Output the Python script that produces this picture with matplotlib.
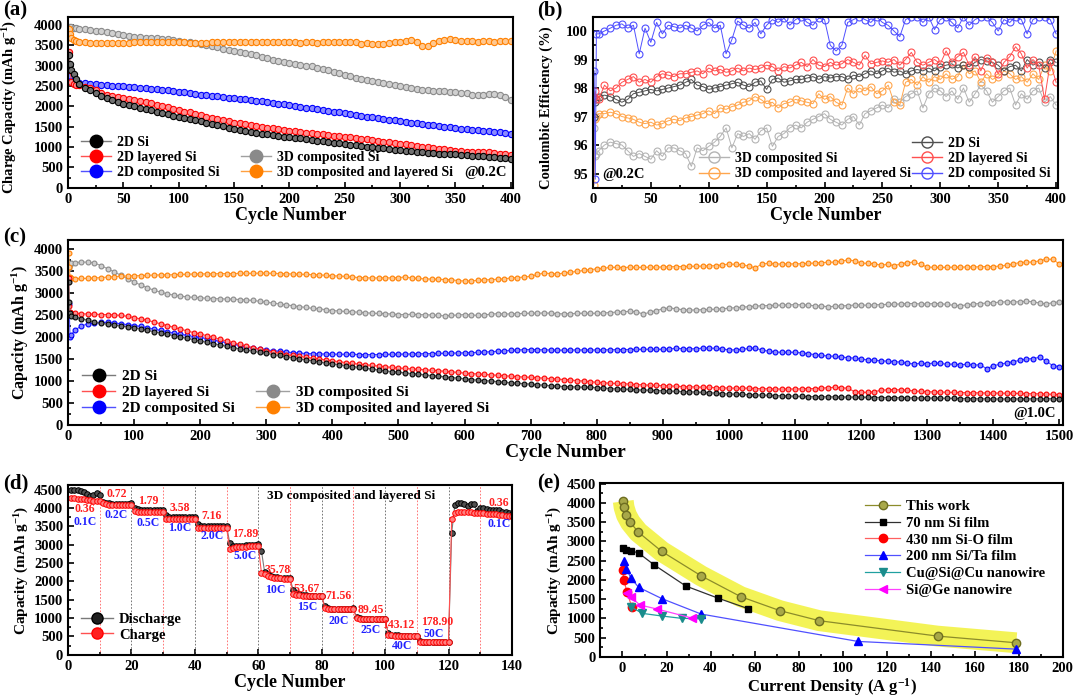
import matplotlib
matplotlib.use("Agg")
import matplotlib.pyplot as plt
from matplotlib.lines import Line2D
from matplotlib.ticker import MultipleLocator

plt.rcParams['font.family'] = ['Liberation Serif', 'DejaVu Serif']
plt.rcParams['font.weight'] = 'bold'
plt.rcParams['axes.labelweight'] = 'bold'
plt.rcParams['mathtext.fontset'] = 'custom'
plt.rcParams['mathtext.rm'] = 'Liberation Serif:bold'
plt.rcParams['mathtext.it'] = 'Liberation Serif:bold:italic'
plt.rcParams['mathtext.bf'] = 'Liberation Serif:bold'

# ---------------- (a) charge capacity @0.2C ----------------
a_cyc = [1, 2, 3, 5, 7] + list(range(10, 401, 5))
a_2d_si = [3250, 3050, 2900, 2800, 2680,
           2550, 2460, 2390, 2320, 2250, 2200, 2150, 2100, 2060, 2030,
           2000, 1960, 1930, 1900, 1870, 1840, 1800, 1770, 1740, 1710,
           1690, 1660, 1630, 1600, 1570, 1540, 1510, 1480, 1450, 1420,
           1400, 1370, 1350, 1330, 1310, 1290, 1270, 1255, 1240, 1225,
           1210, 1195, 1180, 1160, 1140, 1125, 1110, 1090, 1070, 1055,
           1040, 1025, 1010, 995, 980, 965, 950, 935, 920, 910,
           900, 890, 880, 865, 850, 840, 830, 825, 820, 810,
           800, 790, 780, 770, 760, 750, 740, 725, 710]
a_2d_layered = [3330, 2900, 2600, 2540, 2530,
                2520, 2480, 2440, 2390, 2330, 2290, 2250, 2230, 2200, 2170,
                2150, 2120, 2100, 2070, 2040, 2010, 1980, 1940, 1900, 1870,
                1850, 1810, 1780, 1750, 1720, 1690, 1660, 1630, 1600, 1580,
                1560, 1540, 1520, 1500, 1480, 1460, 1440, 1420, 1400, 1385,
                1370, 1355, 1340, 1325, 1310, 1295, 1280, 1265, 1250, 1235,
                1220, 1205, 1190, 1170, 1150, 1135, 1120, 1100, 1080, 1065,
                1050, 1030, 1010, 990, 970, 955, 940, 925, 910, 895,
                880, 870, 870, 885, 880, 860, 840, 820, 800]
a_2d_comp = [2920, 2750, 2620, 2600, 2590,
             2580, 2565, 2550, 2540, 2530, 2520, 2510, 2500, 2490, 2480,
             2470, 2460, 2450, 2435, 2420, 2405, 2390, 2375, 2360, 2345,
             2330, 2310, 2290, 2275, 2260, 2245, 2230, 2215, 2200, 2185,
             2170, 2155, 2140, 2120, 2100, 2080, 2060, 2045, 2030, 2010,
             1990, 1970, 1950, 1930, 1910, 1890, 1870, 1850, 1830, 1810,
             1790, 1770, 1750, 1730, 1710, 1690, 1670, 1655, 1640, 1620,
             1600, 1580, 1560, 1545, 1530, 1515, 1500, 1485, 1470, 1455,
             1440, 1425, 1410, 1400, 1390, 1375, 1360, 1340, 1320]
a_3d_comp = [3960, 3950, 3940, 3930, 3920,
             3910, 3900, 3880, 3860, 3840, 3815, 3790, 3765, 3740, 3725,
             3710, 3695, 3680, 3675, 3670, 3660, 3650, 3630, 3610, 3590,
             3570, 3550, 3530, 3500, 3470, 3445, 3420, 3395, 3370, 3345,
             3320, 3290, 3260, 3220, 3180, 3150, 3120, 3090, 3060, 3040,
             3020, 3000, 2980, 2950, 2920, 2885, 2850, 2810, 2770, 2735,
             2700, 2670, 2640, 2615, 2590, 2570, 2550, 2525, 2500, 2475,
             2450, 2430, 2410, 2395, 2380, 2375, 2370, 2355, 2340, 2330,
             2320, 2290, 2270, 2290, 2300, 2300, 2280, 2220, 2150]
a_3d_comp_layered = [3900, 3780, 3690, 3640, 3610,
                     3590, 3570, 3560, 3555, 3550, 3550, 3555, 3560, 3560, 3565,
                     3570, 3575, 3580, 3580, 3580, 3575, 3575, 3580, 3570, 3575,
                     3565, 3560, 3565, 3565, 3570, 3575, 3580, 3585, 3580, 3585,
                     3590, 3585, 3580, 3580, 3585, 3575, 3570, 3575, 3580, 3570,
                     3560, 3570, 3575, 3565, 3570, 3575, 3570, 3580, 3575, 3580,
                     3570, 3540, 3560, 3530, 3520, 3540, 3555, 3570, 3590, 3610,
                     3620, 3590, 3490, 3470, 3560, 3610, 3640, 3650, 3620, 3610,
                     3600, 3610, 3590, 3600, 3600, 3590, 3600, 3610, 3610]

# ---------------- (b) coulombic efficiency @0.2C ----------------
b_cyc = [1, 2, 3] + list(range(5, 401, 5))
b_2d_si = [97.0, 97.5, 97.6,
           97.7, 97.75, 97.7, 97.6, 97.5, 97.6, 97.8, 97.85, 97.9, 97.95,
           97.9, 97.95, 98.0, 98.05, 98.1, 98.2, 98.3, 98.1, 98.05, 97.95,
           98.0, 98.05, 98.1, 98.15, 98.2, 98.1, 98.05, 98.2, 98.25, 97.95,
           98.3, 98.35, 98.2, 98.25, 98.3, 98.3, 98.35, 98.4, 98.3, 98.4,
           98.35, 98.4, 98.4, 98.3, 98.45, 98.4, 98.5, 98.6, 98.5, 98.6,
           98.7, 98.55, 98.6, 98.5, 98.6, 98.65, 98.6, 98.7, 98.6, 98.75,
           98.8, 98.85, 98.7, 98.8, 98.75, 98.9, 99.0, 98.95, 98.9, 98.8,
           98.6, 98.75, 98.8, 98.6, 99.0, 98.8, 98.9, 98.7, 99.0, 98.9]
b_2d_layered = [97.7, 97.9, 97.6,
                97.6, 98.1, 97.9, 98.0, 98.2, 98.3, 98.4, 98.2, 98.3, 98.2,
                98.4, 98.5, 98.45, 98.4, 98.5, 98.5, 98.55, 98.6, 98.5, 98.7,
                98.6, 98.65, 98.55, 98.6, 98.7, 98.6, 98.7, 98.65, 98.7, 98.8,
                98.75, 98.6, 98.75, 98.7, 98.8, 98.9, 98.75, 99.0, 98.8, 98.75,
                98.9, 98.8, 98.85, 99.0, 98.9, 98.8, 99.15, 98.85, 98.9, 98.95,
                98.9, 99.0, 98.8, 99.0, 99.25, 98.9, 98.8, 98.9, 99.0, 98.85,
                99.3, 98.9, 99.1, 99.25, 98.8, 99.1, 98.6, 99.05, 98.9, 98.5,
                98.9, 99.1, 99.45, 99.2, 98.7, 99.0, 98.8, 97.6, 98.9, 98.2]
b_2d_comp = [98.6, 94.8, 99.9,
             99.9, 100.0, 100.1, 100.2, 100.25, 100.1, 100.2, 99.2, 100.1, 99.6,
             100.3, 99.9, 100.2, 100.15, 100.1, 100.2, 100.1, 100.0, 100.2, 100.3,
             100.1, 100.2, 99.2, 99.7, 100.35, 100.2, 100.1, 100.3, 99.9, 100.2,
             100.4, 100.3, 100.45, 100.2, 100.4, 100.5, 100.3, 100.2, 100.45, 100.4,
             99.5, 99.3, 99.5, 100.3, 100.4, 100.5, 100.4, 100.3, 100.5, 100.3,
             100.2, 100.0, 99.8, 100.4, 100.5, 100.5, 100.3, 100.5, 100.05, 100.4,
             100.5, 100.3, 100.1, 100.5, 100.2, 100.4, 100.5, 100.5, 100.3, 100.0,
             100.4, 100.3, 100.5, 100.4, 99.9, 100.4, 100.5, 100.5, 100.4, 99.9]
b_3d_comp = [96.6, 95.6, 95.7,
             95.8, 96.0, 96.1, 96.05, 96.0, 95.8, 95.6, 95.7, 95.6, 95.5,
             95.8, 95.6, 95.9, 95.9, 95.8, 95.7, 95.25, 95.9, 95.8, 95.95,
             96.1, 96.3, 96.6, 95.9, 96.4, 96.3, 96.4, 96.2, 96.5, 96.6,
             95.95, 96.3, 96.4, 96.6, 96.7, 96.6, 96.8, 96.9, 97.0, 97.1,
             96.9, 96.8, 96.7, 96.9, 97.0, 96.7, 97.1, 97.2, 97.3, 97.4,
             97.3, 97.6, 97.5, 97.7, 97.8, 97.9, 97.3, 97.8, 98.0, 97.9,
             97.7, 97.9, 97.6, 98.0, 97.5, 97.8, 98.1, 97.9, 97.5, 97.7,
             97.9, 98.0, 97.4, 97.8, 97.6, 97.9, 98.0, 97.5, 97.7, 97.4]
b_3d_comp_layered = [94.6, 96.9, 97.0,
                     97.1, 97.1, 97.15, 97.1, 97.0, 96.95, 96.9, 96.8, 96.75, 96.8,
                     96.7, 96.75, 96.85, 96.9, 96.85, 96.95, 97.0, 97.05, 97.1, 97.2,
                     97.1, 97.3, 97.25, 97.35, 97.4, 97.5, 97.55, 97.7, 97.6, 97.45,
                     97.5, 97.3, 97.45, 97.5, 97.6, 97.55, 97.5, 97.45, 97.8, 97.6,
                     97.7, 97.5, 97.4, 98.0, 97.8, 98.0, 97.9, 98.05, 97.8, 97.9,
                     98.1, 97.5, 97.4, 98.2, 98.3, 98.1, 98.4, 98.2, 98.4, 98.3,
                     98.5, 98.3, 98.4, 98.8, 98.5, 98.6, 98.2, 98.5, 98.3, 98.4,
                     98.6, 98.5, 98.3, 98.4, 98.2, 98.5, 98.3, 98.8, 98.6, 99.3]

# ---------------- (c) capacity @1.0C ----------------
c_cyc = [1, 2, 3, 5] + list(range(10, 1501, 10))
c_2d_si = [3250, 2800, 2550, 2480,
           2460, 2420, 2380, 2340, 2310, 2290, 2270, 2250, 2230, 2210,
           2180, 2150, 2120, 2090, 2060, 2030, 2000, 1970, 1940, 1910,
           1880, 1850, 1820, 1790, 1760, 1730, 1700, 1680, 1650, 1630,
           1600, 1580, 1550, 1530, 1500, 1480, 1460, 1430, 1410, 1390,
           1370, 1350, 1330, 1310, 1290, 1270, 1250, 1230, 1215, 1200,
           1185, 1170, 1155, 1140, 1125, 1110, 1095, 1080, 1065, 1050,
           1035, 1020, 1010, 1000, 985, 970, 960, 950, 940, 930,
           915, 905, 895, 885, 875, 870, 865, 860, 855, 850,
           840, 830, 820, 815, 810, 800, 795, 790, 785, 780,
           770, 765, 760, 755, 750, 740, 735, 725, 715, 705,
           700, 695, 690, 685, 680, 675, 670, 665, 660, 655,
           650, 648, 645, 642, 640, 638, 636, 634, 632, 630,
           628, 626, 624, 622, 620, 618, 617, 616, 615, 614,
           612, 610, 608, 605, 600, 598, 596, 594, 593, 592,
           592, 593, 594, 595, 595, 596, 596, 597, 598, 600]
c_2d_layered = [3350, 2700, 2560, 2540,
                2540, 2530, 2520, 2520, 2510, 2510, 2500, 2490, 2470, 2440,
                2410, 2380, 2340, 2300, 2260, 2220, 2180, 2140, 2100, 2070,
                2030, 1990, 1950, 1910, 1870, 1830, 1790, 1760, 1720, 1690,
                1660, 1630, 1600, 1580, 1560, 1540, 1520, 1500, 1480, 1460,
                1440, 1420, 1400, 1385, 1370, 1355, 1340, 1325, 1310, 1295,
                1285, 1275, 1265, 1255, 1245, 1235, 1220, 1210, 1195, 1180,
                1170, 1160, 1150, 1140, 1130, 1120, 1110, 1100, 1090, 1085,
                1075, 1065, 1055, 1045, 1035, 1025, 1010, 1000, 985, 970,
                960, 950, 945, 940, 930, 920, 915, 905, 900, 895,
                890, 880, 875, 870, 865, 860, 855, 850, 845, 840,
                838, 836, 840, 830, 826, 822, 820, 818, 820, 818,
                825, 830, 828, 840, 850, 856, 850, 835, 760, 745,
                742, 760, 790, 800, 805, 800, 790, 775, 765, 758,
                752, 748, 745, 740, 738, 735, 732, 730, 728, 727,
                725, 722, 720, 718, 715, 712, 710, 705, 698, 690]
c_2d_comp = [2750, 2500, 1990, 2050,
             2150, 2250, 2300, 2320, 2330, 2330, 2320, 2300, 2280, 2260,
             2240, 2210, 2180, 2150, 2120, 2090, 2060, 2040, 2010, 1990,
             1960, 1930, 1900, 1870, 1840, 1810, 1780, 1760, 1730, 1705,
             1690, 1675, 1660, 1645, 1635, 1625, 1620, 1615, 1612, 1610,
             1608, 1605, 1603, 1600, 1600, 1600, 1602, 1604, 1606, 1610,
             1612, 1615, 1618, 1620, 1625, 1628, 1630, 1634, 1637, 1640,
             1645, 1650, 1660, 1665, 1675, 1685, 1695, 1705, 1712, 1715,
             1712, 1708, 1705, 1700, 1702, 1704, 1706, 1705, 1704, 1705,
             1708, 1710, 1712, 1715, 1716, 1718, 1720, 1722, 1720, 1720,
             1730, 1740, 1735, 1730, 1735, 1745, 1750, 1740, 1730, 1705,
             1710, 1720, 1740, 1750, 1700, 1680, 1660, 1650, 1655, 1650,
             1640, 1620, 1600, 1580, 1570, 1560, 1545, 1530, 1520, 1500,
             1480, 1470, 1460, 1450, 1440, 1430, 1400, 1390, 1400, 1390,
             1410, 1400, 1380, 1385, 1370, 1380, 1360, 1370, 1280, 1350,
             1380, 1410, 1440, 1470, 1500, 1510, 1540, 1450, 1350, 1330]
c_3d_comp = [3300, 3560, 3640, 3670,
             3690, 3700, 3700, 3680, 3620, 3550, 3480, 3400, 3320, 3250,
             3180, 3120, 3060, 3020, 2980, 2950, 2930, 2910, 2900, 2890,
             2880, 2870, 2870, 2860, 2860, 2850, 2840, 2830, 2810, 2790,
             2770, 2750, 2730, 2710, 2690, 2670, 2650, 2640, 2620, 2600,
             2590, 2580, 2575, 2560, 2550, 2540, 2535, 2530, 2520, 2510,
             2510, 2515, 2510, 2505, 2500, 2490, 2480, 2490, 2500, 2510,
             2500, 2490, 2500, 2520, 2530, 2520, 2525, 2530, 2535, 2540,
             2540, 2545, 2540, 2530, 2525, 2530, 2535, 2540, 2535, 2540,
             2545, 2555, 2565, 2575, 2580, 2575, 2520, 2560, 2600, 2640,
             2660, 2640, 2620, 2610, 2615, 2620, 2625, 2630, 2640, 2655,
             2665, 2675, 2690, 2700, 2710, 2715, 2720, 2725, 2730, 2735,
             2730, 2720, 2710, 2700, 2690, 2695, 2705, 2715, 2725, 2727,
             2720, 2730, 2735, 2740, 2745, 2750, 2760, 2760, 2750, 2750,
             2760, 2755, 2740, 2720, 2710, 2730, 2750, 2760, 2770, 2780,
             2790, 2800, 2795, 2800, 2810, 2800, 2770, 2750, 2780, 2800]
c_3d_comp_layered = [3900, 3600, 3360, 3330,
                     3320, 3330, 3330, 3340, 3350, 3360, 3370, 3380, 3385, 3390,
                     3395, 3400, 3405, 3410, 3410, 3415, 3420, 3425, 3430, 3430,
                     3435, 3435, 3440, 3440, 3440, 3445, 3445, 3445, 3450, 3450,
                     3445, 3440, 3435, 3430, 3425, 3420, 3415, 3410, 3400, 3390,
                     3385, 3375, 3360, 3350, 3345, 3340, 3340, 3345, 3340, 3350,
                     3360, 3340, 3330, 3320, 3315, 3310, 3305, 3300, 3280, 3270,
                     3275, 3285, 3295, 3305, 3310, 3320, 3340, 3350, 3360, 3380,
                     3420, 3450, 3440, 3430, 3450, 3470, 3490, 3510, 3530, 3545,
                     3560, 3580, 3580, 3575, 3585, 3580, 3580, 3585, 3585, 3590,
                     3595, 3600, 3600, 3605, 3605, 3610, 3615, 3620, 3640, 3655,
                     3650, 3640, 3610, 3570, 3660, 3670, 3660, 3655, 3660, 3660,
                     3665, 3670, 3680, 3690, 3695, 3700, 3720, 3750, 3730, 3680,
                     3670, 3665, 3630, 3650, 3620, 3660, 3690, 3700, 3650, 3590,
                     3580, 3580, 3580, 3585, 3585, 3590, 3590, 3595, 3600, 3600,
                     3610, 3630, 3660, 3690, 3700, 3700, 3730, 3770, 3760, 3660]

# ---------------- (d) rate performance ----------------
d_cyc = list(range(1, 141))
d_discharge = [4500, 4500, 4490, 4460, 4430, 4380, 4320, 4360, 4400, 4350,
               4170, 4130, 4120, 4110, 4110, 4100, 4100, 4100, 4110, 4120,
               4010, 3960, 3950, 3950, 3950, 3940, 3940, 3940, 3950, 3950,
               3810, 3760, 3750, 3740, 3740, 3740, 3740, 3740, 3750, 3760,
               3550, 3500, 3500, 3500, 3500, 3500, 3500, 3500, 3500, 3510,
               3040, 2950, 2950, 2960, 2970, 2980, 2990, 3000, 3000, 3020,
               2830, 2250, 2190, 2150, 2120, 2110, 2100, 2090, 2090, 2080,
               1760, 1680, 1650, 1630, 1620, 1610, 1610, 1600, 1600, 1600,
               1320, 1270, 1250, 1250, 1250, 1250, 1250, 1250, 1250, 1260,
               1020, 990, 980, 975, 975, 970, 970, 975, 980, 985,
               580, 540, 530, 525, 520, 520, 515, 515, 510, 510,
               370, 355, 350, 350, 350, 350, 350, 350, 350, 350,
               3320, 4080, 4120, 4120, 4110, 4060, 4110, 4100, 3920, 3990,
               3990, 3960, 3940, 3930, 3950, 3930, 3900, 3900, 3860, 3840]
d_charge = [4270, 4260, 4250, 4240, 4230, 4220, 4210, 4200, 4190, 4180,
            4120, 4100, 4090, 4080, 4080, 4080, 4080, 4080, 4080, 4080,
            3910, 3890, 3880, 3880, 3880, 3880, 3880, 3880, 3880, 3880,
            3710, 3690, 3690, 3690, 3690, 3690, 3690, 3690, 3690, 3690,
            3450, 3460, 3460, 3460, 3460, 3460, 3460, 3460, 3460, 3460,
            2890, 2920, 2930, 2935, 2940, 2945, 2950, 2955, 2960, 2965,
            2230, 2190, 2150, 2120, 2100, 2090, 2080, 2075, 2070, 2070,
            1660, 1640, 1620, 1610, 1600, 1600, 1600, 1595, 1595, 1595,
            1280, 1250, 1240, 1240, 1240, 1240, 1240, 1240, 1240, 1240,
            990, 970, 965, 965, 960, 960, 960, 960, 960, 965,
            550, 525, 520, 515, 510, 510, 505, 505, 505, 505,
            355, 345, 345, 345, 345, 345, 345, 345, 345, 345,
            3700, 3860, 3890, 3900, 3900, 3900, 3890, 3870, 3850, 3860,
            3860, 3840, 3830, 3830, 3820, 3810, 3800, 3790, 3780, 3770]
d_density = ['0.36', '0.72', '1.79', '3.58', '7.16', '17.89', '35.78',
             '53.67', '71.56', '89.45', '143.12', '178.90', '0.36']
d_density_pos = [(5.3, 3960), (15.3, 4390), (25.3, 4190), (35.3, 4000),
                 (45.3, 3790), (55.9, 3290), (66.0, 2300), (75.4, 1790),
                 (85.4, 1600), (95.4, 1230), (104.0, 800), (116.5, 900),
                 (136, 4140)]
d_rate = ['0.1C', '0.2C', '0.5C', '1.0C', '2.0C', '5.0C', '10C',
          '15C', '20C', '25C', '40C', '50C', '0.1C']
d_rate_pos = [(5.3, 3620), (15.3, 3800), (25.3, 3600), (35.3, 3450),
              (45.3, 3230), (55.9, 2680), (65.4, 1760), (75.4, 1300),
              (85.4, 930), (95.4, 660), (105.4, 250), (115.4, 560),
              (136, 3560)]

# ---------------- (e) comparison ----------------
e_this_x = [0.36, 0.72, 1.79, 3.58, 7.16, 17.89, 35.78, 53.67, 71.56, 89.45, 143.12, 178.90]
e_this_y = [4043, 3887, 3687, 3496, 3243, 2739, 2104, 1565, 1200, 939, 539, 365]
e_70nm_x = [0.45, 1.6, 3.8, 7.3, 14.4, 28.8, 43.2, 57.2]
e_70nm_y = [2820, 2790, 2760, 2700, 2390, 1840, 1530, 1250]
e_sio_x = [0.1, 0.6, 1.95, 4.2]
e_sio_y = [2252, 2009, 1696, 1304]
e_sita_x = [0.7, 1.75, 3.7, 7.3, 17.9, 35.7, 107, 178.8]
e_sita_y = [2504, 2296, 2061, 1809, 1513, 1113, 400, 200]
e_cusicu_x = [3.7, 9.0, 17.9, 27.0, 35.7]
e_cusicu_y = [1304, 1130, 1061, 1000, 991]
e_sige_x = [1.9, 3.8, 7.9, 15.7, 31.5]
e_sige_y = [1652, 1557, 1348, 1243, 1009]

labels_2d = ['2D Si', '2D layered Si', '2D composited Si']
labels_3d = ['3D composited Si', '3D composited and layered Si']

# edge, face, line colours for the "ball" markers
STY = {
    'k': ('#000000', '#707070', '#7a7a7a'),
    'r': ('#ff0000', '#ff9090', '#ff5050'),
    'b': ('#0000ff', '#8a8aff', '#5050ff'),
    'g': ('#8a8a8a', '#d0d0d0', '#a0a0a0'),
    'o': ('#ff8000', '#ffc890', '#ffa040'),
}


def ball_line(ax, x, y, key, ms=4.5):
    e, f, l = STY[key]
    ax.plot(x, y, '-', color=l, lw=0.8, marker='o', ms=ms, mfc=f, mec=e, mew=0.8)


def ball_handle(key, label):
    e, f, l = STY[key]
    return Line2D([], [], color=l, lw=1.0, marker='o', ms=9, mfc=e, mec=e, label=label)


def style(ax, xmaj, xmin, ymaj, ymin):
    ax.xaxis.set_major_locator(MultipleLocator(xmaj))
    ax.xaxis.set_minor_locator(MultipleLocator(xmin))
    ax.yaxis.set_major_locator(MultipleLocator(ymaj))
    ax.yaxis.set_minor_locator(MultipleLocator(ymin))
    ax.tick_params(which='both', direction='in', labelsize=10.5, width=1.2)
    ax.tick_params(which='major', length=4)
    ax.tick_params(which='minor', length=2.5)
    for s in ax.spines.values():
        s.set_linewidth(1.5)


fig = plt.figure(figsize=(10.8, 6.98), dpi=100)

# (a)
ax = fig.add_axes([0.063, 0.731, 0.412, 0.245])
for y, k in zip([a_3d_comp, a_3d_comp_layered, a_2d_comp, a_2d_layered, a_2d_si],
                ['g', 'o', 'b', 'r', 'k']):
    ball_line(ax, a_cyc, y, k)
ax.set_xlim(0, 402)
ax.set_ylim(0, 4200)
style(ax, 50, 25, 500, 250)
ax.set_xlabel('Cycle Number', fontsize=13, labelpad=1)
ax.set_ylabel('Charge Capacity (mAh g$^{-1}$)', fontsize=10.5, labelpad=2)
ax.yaxis.set_label_coords(-0.11, 0.47)
leg1 = ax.legend(handles=[ball_handle(k, t) for k, t in zip('krb', labels_2d)],
                 loc='lower left', bbox_to_anchor=(0.0, -0.02), frameon=False,
                 fontsize=10, handlelength=2.2, handletextpad=0.4, labelspacing=0.15)
ax.add_artist(leg1)
ax.legend(handles=[ball_handle(k, t) for k, t in zip('go', labels_3d)],
          loc='lower left', bbox_to_anchor=(0.36, -0.02), frameon=False,
          fontsize=10, handlelength=2.2, handletextpad=0.4, labelspacing=0.15)
ax.text(0.985, 0.05, '@0.2C', transform=ax.transAxes, ha='right', va='bottom', fontsize=10.5)

# (b)
ax = fig.add_axes([0.549, 0.731, 0.431, 0.245])
b_sty = [(b_3d_comp, '#b4b4b4'), (b_3d_comp_layered, '#ffa64d'),
         (b_2d_si, '#505050'), (b_2d_layered, '#ff5050'), (b_2d_comp, '#5050ff')]
for y, c in b_sty:
    ax.plot(b_cyc, y, '-', color=c, lw=0.7, marker='o', ms=5, mfc='none', mec=c, mew=0.8)
ax.set_xlim(0, 402)
ax.set_ylim(94.5, 100.5)
style(ax, 50, 25, 1, 0.5)
ax.set_xlabel('Cycle Number', fontsize=13, labelpad=1)
ax.set_ylabel('Coulombic Efficiency (%)', fontsize=10.5, labelpad=4)
ax.yaxis.set_label_coords(-0.085, 0.47)
hb = lambda c, t: Line2D([], [], color=c, lw=1.0, marker='o', ms=8, mfc='none', mec=c, label=t)
leg1 = ax.legend(handles=[hb('#505050', labels_2d[0]), hb('#ff5050', labels_2d[1]),
                          hb('#5050ff', labels_2d[2])],
                 loc='lower right', bbox_to_anchor=(1.01, -0.03), frameon=False,
                 fontsize=10, handlelength=2.2, handletextpad=0.4, labelspacing=0.15)
ax.add_artist(leg1)
ax.legend(handles=[hb('#b4b4b4', labels_3d[0]), hb('#ffa64d', labels_3d[1])],
          loc='lower left', bbox_to_anchor=(0.2, -0.03), frameon=False,
          fontsize=10, handlelength=2.2, handletextpad=0.4, labelspacing=0.15)
ax.text(0.02, 0.04, '@0.2C', transform=ax.transAxes, ha='left', va='bottom', fontsize=10.5)

# (c)
ax = fig.add_axes([0.063, 0.391, 0.921, 0.265])
for y, k in zip([c_3d_comp, c_3d_comp_layered, c_2d_comp, c_2d_layered, c_2d_si],
                ['g', 'o', 'b', 'r', 'k']):
    ball_line(ax, c_cyc, y, k, ms=3.5)
ax.set_xlim(0, 1505)
ax.set_ylim(0, 4200)
style(ax, 100, 50, 500, 250)
ax.set_xlabel('Cycle Number', fontsize=14, labelpad=1)
ax.set_ylabel('Capacity (mAh g$^{-1}$)', fontsize=11.5, labelpad=2)
leg1 = ax.legend(handles=[ball_handle(k, t) for k, t in zip('krb', labels_2d)],
                 loc='lower left', bbox_to_anchor=(0.0, -0.02), frameon=False,
                 fontsize=11, handlelength=2.2, handletextpad=0.4, labelspacing=0.15)
ax.add_artist(leg1)
ax.legend(handles=[ball_handle(k, t) for k, t in zip('go', labels_3d)],
          loc='lower left', bbox_to_anchor=(0.175, -0.02), frameon=False,
          fontsize=11, handlelength=2.2, handletextpad=0.4, labelspacing=0.15)
ax.text(0.993, 0.03, '@1.0C', transform=ax.transAxes, ha='right', va='bottom', fontsize=10.5)

# (d)
ax = fig.add_axes([0.063, 0.062, 0.411, 0.243])
for xv in range(10, 140, 10):
    ax.axvline(xv, color='#ff6060' if xv % 20 else '#606060', lw=0.6, ls=(0, (2, 2)))
ax.plot(d_cyc, d_discharge, '-', color='#7a7a7a', lw=0.8, marker='o', ms=4,
        mfc='#505050', mec='#000000', mew=0.7)
ax.plot(d_cyc, d_charge, '-', color='#ff5050', lw=0.8, marker='o', ms=4,
        mfc='#ff8080', mec='#ff0000', mew=0.7)
for t, (x, y) in zip(d_density, d_density_pos):
    ax.text(x, y, t, color='#ff2020', fontsize=8.5, ha='center', va='center')
for t, (x, y) in zip(d_rate, d_rate_pos):
    ax.text(x, y, t, color='#2020ff', fontsize=8.5, ha='center', va='center')
ax.text(89.4, 4324, '3D composited and layered Si', fontsize=9.5, ha='center', va='center')
ax.set_xlim(0, 140)
ax.set_ylim(0, 4620)
style(ax, 20, 10, 500, 250)
ax.set_xlabel('Cycle Number', fontsize=13, labelpad=1)
ax.set_ylabel('Capacity (mAh g$^{-1}$)', fontsize=11, labelpad=2)
ax.legend(handles=[Line2D([], [], color='#7a7a7a', lw=1, marker='o', ms=8, mfc='#202020', mec='k', label='Discharge'),
                   Line2D([], [], color='#ff5050', lw=1, marker='o', ms=8, mfc='#ff2020', mec='r', label='Charge')],
          loc='lower left', bbox_to_anchor=(0.0, 0.0), frameon=False, fontsize=10.5,
          handlelength=2.2, handletextpad=0.4, labelspacing=0.15)

# (e)
ax = fig.add_axes([0.556, 0.059, 0.428, 0.249])
ax.plot(e_this_x, e_this_y, '-', color='#f2f23a', lw=15, alpha=0.85, solid_capstyle='butt', zorder=1)
ax.plot(e_this_x, e_this_y, '-', color='#8c8c2a', lw=0.9, marker='o', ms=6,
        mfc='#a8a848', mec='#6e6e20', zorder=3, label='This work')
ax.plot(e_70nm_x, e_70nm_y, '-', color='#303030', lw=0.9, marker='s', ms=5,
        mfc='k', mec='k', zorder=3, label='70 nm Si film')
ax.plot(e_sio_x, e_sio_y, '-', color='#ff6060', lw=0.9, marker='o', ms=6,
        mfc='r', mec='r', zorder=3, label='430 nm Si-O film')
ax.plot(e_sita_x, e_sita_y, '-', color='#5050ff', lw=0.9, marker='^', ms=6,
        mfc='b', mec='b', zorder=3, label='200 nm Si/Ta film')
ax.plot(e_cusicu_x, e_cusicu_y, '-', color='#20a0a0', lw=0.9, marker='v', ms=6,
        mfc='#1a8c8c', mec='#1a8c8c', zorder=3, label='Cu@Si@Cu nanowire')
ax.plot(e_sige_x, e_sige_y, '-', color='#ff40ff', lw=0.9, marker='<', ms=6,
        mfc='#ff00ff', mec='#ff00ff', zorder=3, label='Si@Ge nanowire')
ax.set_xlim(-10, 200)
ax.set_ylim(0, 4520)
style(ax, 20, 10, 500, 250)
ax.set_xlabel('Current Density (A g$^{-1}$)', fontsize=12, labelpad=1)
ax.set_ylabel('Capacity (mAh g$^{-1}$)', fontsize=11, labelpad=2)
ax.legend(loc='upper right', bbox_to_anchor=(0.99, 0.98), frameon=False, fontsize=10.5,
          handlelength=2.4, handletextpad=0.4, labelspacing=0.25)

for t, x, y in [('(a)', 0.003, 0.999), ('(b)', 0.497, 0.999), ('(c)', 0.003, 0.674),
                ('(d)', 0.003, 0.321), ('(e)', 0.497, 0.321)]:
    fig.text(x, y, t, fontsize=15, fontweight='bold', ha='left', va='top')

fig.savefig('out.png', dpi=100)
